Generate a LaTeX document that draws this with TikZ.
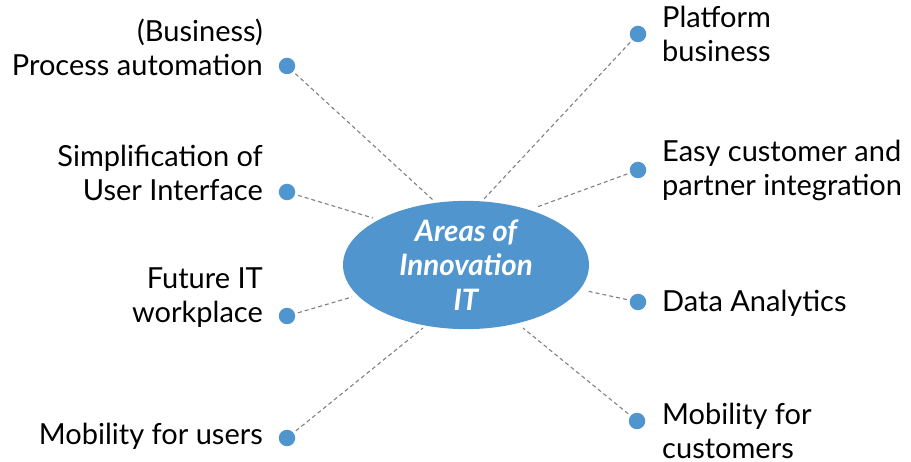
\documentclass[tikz,border=0pt]{standalone}
\usepackage{fontspec}
\setmainfont{Lato}
\usetikzlibrary{shapes.geometric}
\definecolor{areablue}{RGB}{80,149,206}
\definecolor{linegray}{RGB}{128,128,128}
\tikzset{
  dot/.style={circle,fill=areablue,draw=none,minimum size=16.5pt,inner sep=0pt},
  lab/.style={font=\fontsize{29}{34}\selectfont,inner sep=0pt,text=black},
  labl/.style={lab,align=right,anchor=base east},
  labr/.style={lab,align=left,anchor=base west},
  conn/.style={draw=linegray,line width=1.1pt,dash pattern=on 4pt off 3pt,shorten <=3pt},
  hub/.style={ellipse,fill=areablue,draw=none,minimum width=246pt,minimum height=120pt,inner sep=0pt,
    text=white,align=center,font=\fontsize{29.5}{34.5}\selectfont\bfseries\itshape}
}
\begin{document}
\begin{tikzpicture}[x=1pt,y=-1pt]
\useasboundingbox (0,0) rectangle (911,462);
\node[hub] (c) at (466,265) {Areas of\\Innovation\\IT};
% dots
\node[dot] (d1) at (287,66) {};
\node[dot] (d2) at (287,192) {};
\node[dot] (d3) at (287,316) {};
\node[dot] (d4) at (287,438) {};
\node[dot] (d5) at (638,34) {};
\node[dot] (d6) at (638,170) {};
\node[dot] (d7) at (638,302) {};
\node[dot] (d8) at (637,421) {};
% labels (anchored at the baseline of their last line)
\node[labl] (t1) at (263,76) {(Business)\\Process automation};
\node[labl] (t2) at (263,201) {Simplification of\\User Interface};
\node[labl] (t3) at (263,323) {Future IT\\workplace};
\node[labl] (t4) at (263,445) {Mobility for users};
\node[labr] (t5) at (662,62) {Platform\\business};
\node[labr] (t6) at (662,196) {Easy customer and\\partner integration};
\node[labr] (t7) at (662,312) {Data Analytics};
\node[labr] (t8) at (662,458) {Mobility for\\customers};
% connector ends near the hub
\coordinate (e1) at (433,200);
\coordinate (e2) at (373,218);
\coordinate (e3) at (352,297);
\coordinate (e4) at (423,328);
\coordinate (e5) at (483,200);
\coordinate (e6) at (537,207);
\coordinate (e7) at (587,291);
\coordinate (e8) at (523,328);
\foreach \i in {1,...,8} {\draw[conn] (d\i) -- (e\i);}
\end{tikzpicture}
\end{document}
